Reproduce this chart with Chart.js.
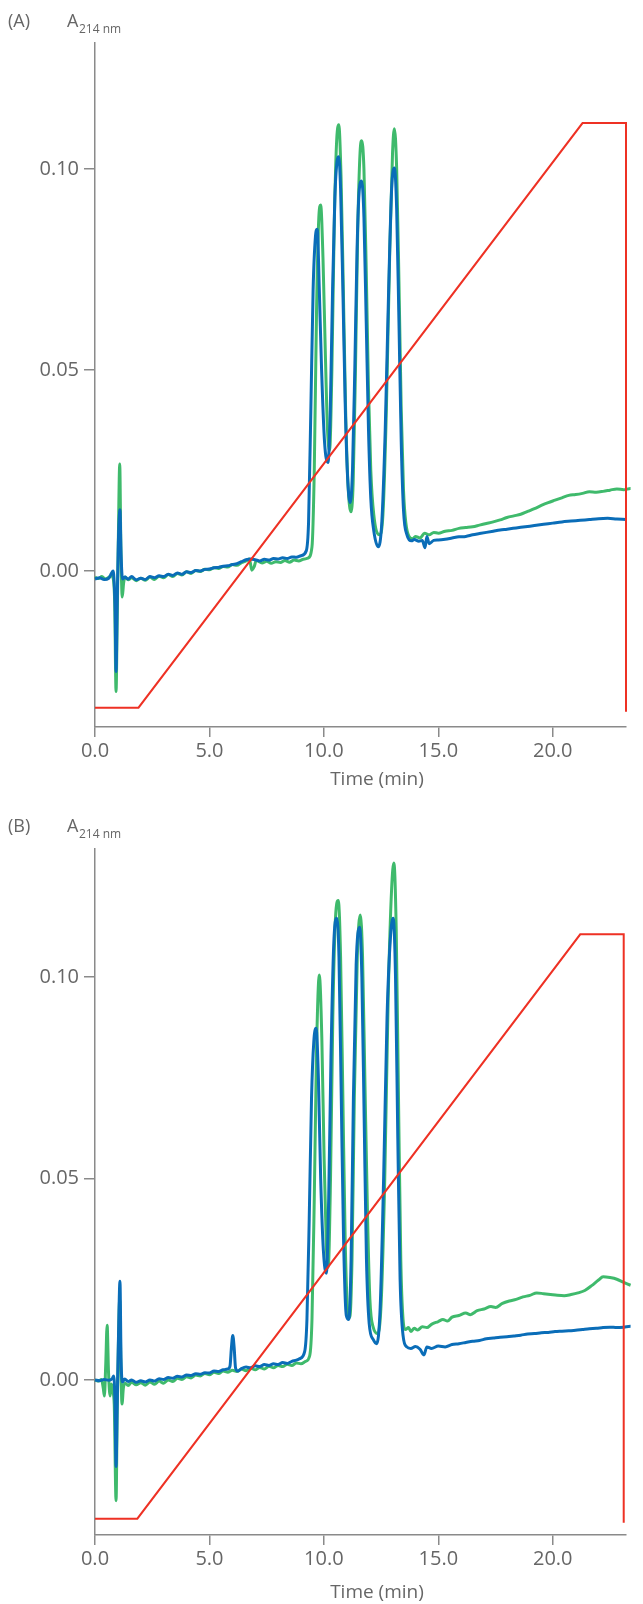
<!DOCTYPE html>
<html>
<head>
<meta charset="utf-8">
<script src="https://cdn.jsdelivr.net/npm/chart.js@4.4.0/dist/chart.umd.min.js"></script>
<style>
  html, body { margin: 0; padding: 0; background: #fff; width: 643px; height: 1604px; overflow: hidden; }
  canvas { position: absolute; left: 0; }
  .lbl { position: absolute; font-family: "Open Sans", sans-serif; color: #666; line-height: 1; white-space: nowrap; }
  .big { font-size: 18px; }
  .sub { font-size: 12px; }
  .xtitle { font-size: 19px; transform: translateX(-50%); }
</style>
</head>
<body>
<canvas id="chartA" width="643" height="791" style="top:0px;"></canvas>
<div class="lbl big" style="left:8px; top:11px;">(A)</div>
<div class="lbl big" style="left:67px; top:11px;">A</div>
<div class="lbl sub" style="left:79px; top:23px;">214 nm</div>
<div class="lbl xtitle" style="left:377px; top:769px;">Time (min)</div>

<canvas id="chartB" width="643" height="798" style="top:806px;"></canvas>
<div class="lbl big" style="left:8px; top:816px;">(B)</div>
<div class="lbl big" style="left:67px; top:816px;">A</div>
<div class="lbl sub" style="left:79px; top:828px;">214 nm</div>
<div class="lbl xtitle" style="left:377px; top:1582px;">Time (min)</div>

<script>
// time (min), absorbance at 214 nm
const greenA = [
  [0.00,-0.0015],[0.15,-0.0019],[0.30,-0.0014],[0.45,-0.0020],[0.60,-0.0016],[0.72,-0.0012],[0.80,-0.0020],
  [0.86,-0.0080],[0.92,-0.0300],[0.97,-0.0120],[1.02,0.0080],[1.08,0.0266],[1.13,0.0060],[1.19,-0.0065],
  [1.25,-0.0030],[1.32,-0.0015],[1.45,-0.0022],[1.60,-0.0017],[1.80,-0.0024],[2.00,-0.0018],[2.20,-0.0023],
  [2.40,-0.0015],[2.60,-0.0021],[2.80,-0.0013],[3.00,-0.0017],[3.20,-0.0009],[3.40,-0.0014],[3.60,-0.0006],
  [3.80,-0.0010],[4.00,-0.0002],[4.20,-0.0006],[4.40,0.0001],[4.60,-0.0001],[4.80,0.0004],[5.00,0.0003],
  [5.20,0.0008],[5.40,0.0006],[5.60,0.0011],[5.80,0.0010],[6.00,0.0016],[6.20,0.0014],[6.40,0.0021],
  [6.60,0.0025],[6.75,0.0030],[6.85,0.0002],[6.95,0.0010],[7.05,0.0026],[7.30,0.0020],[7.50,0.0024],
  [7.70,0.0019],[7.90,0.0023],[8.10,0.0021],[8.30,0.0026],[8.50,0.0022],[8.70,0.0027],[8.90,0.0025],
  [9.10,0.0029],[9.30,0.0032],[9.48,0.0060],[9.58,0.0250],[9.68,0.0650],[9.78,0.0880],[9.86,0.0910],
  [9.96,0.0780],[10.06,0.0550],[10.16,0.0350],[10.25,0.0300],[10.35,0.0500],[10.45,0.0850],[10.55,0.1060],
  [10.65,0.1110],[10.75,0.0980],[10.85,0.0700],[10.95,0.0400],[11.05,0.0220],[11.18,0.0147],[11.28,0.0220],
  [11.38,0.0500],[11.48,0.0850],[11.58,0.1040],[11.65,0.1070],[11.75,0.1000],[11.85,0.0750],[11.95,0.0450],
  [12.05,0.0250],[12.18,0.0140],[12.43,0.0090],[12.58,0.0140],[12.73,0.0400],[12.88,0.0800],[13.00,0.1040],
  [13.08,0.1100],[13.18,0.1000],[13.28,0.0720],[13.38,0.0400],[13.48,0.0200],[13.58,0.0120],[13.73,0.0085],
  [13.88,0.0080],[14.00,0.0086],[14.20,0.0082],[14.40,0.0094],[14.60,0.0090],[14.80,0.0096],[15.00,0.0094],
  [15.30,0.0099],[15.60,0.0101],[15.90,0.0106],[16.20,0.0108],[16.50,0.0110],[16.80,0.0114],[17.10,0.0118],
  [17.40,0.0122],[17.70,0.0127],[18.00,0.0133],[18.30,0.0137],[18.60,0.0141],[18.90,0.0148],[19.20,0.0155],
  [19.50,0.0163],[19.80,0.0170],[20.10,0.0176],[20.40,0.0182],[20.70,0.0188],[21.00,0.0190],[21.30,0.0193],
  [21.60,0.0197],[21.90,0.0196],[22.20,0.0198],[22.50,0.0201],[22.80,0.0204],[23.10,0.0202],[23.40,0.0205],
  [23.80,0.0203]
];

const blueA = [
  [0.00,-0.0020],[0.20,-0.0017],[0.40,-0.0021],[0.60,-0.0018],[0.72,-0.0006],[0.79,0.0000],[0.84,-0.0030],
  [0.88,-0.0100],[0.92,-0.0250],[0.97,-0.0080],[1.02,0.0070],[1.09,0.0152],[1.14,0.0040],[1.20,-0.0020],
  [1.30,-0.0015],[1.45,-0.0020],[1.60,-0.0014],[1.80,-0.0022],[2.00,-0.0018],[2.20,-0.0021],[2.40,-0.0014],
  [2.60,-0.0017],[2.80,-0.0012],[3.00,-0.0014],[3.20,-0.0008],[3.40,-0.0011],[3.60,-0.0005],[3.80,-0.0008],
  [4.00,-0.0002],[4.20,-0.0004],[4.40,0.0001],[4.60,0.0000],[4.80,0.0004],[5.00,0.0005],[5.20,0.0008],
  [5.40,0.0009],[5.60,0.0012],[5.80,0.0013],[6.00,0.0016],[6.20,0.0018],[6.40,0.0023],[6.60,0.0028],
  [6.80,0.0030],[7.00,0.0028],[7.20,0.0025],[7.40,0.0029],[7.60,0.0027],[7.80,0.0031],[8.00,0.0030],
  [8.20,0.0033],[8.40,0.0031],[8.60,0.0035],[8.80,0.0034],[9.00,0.0038],[9.23,0.0050],[9.33,0.0120],
  [9.43,0.0400],[9.53,0.0700],[9.63,0.0830],[9.71,0.0850],[9.80,0.0700],[9.90,0.0500],[10.03,0.0320],
  [10.18,0.0270],[10.28,0.0400],[10.38,0.0700],[10.48,0.0930],[10.58,0.1020],[10.65,0.1030],[10.73,0.0950],
  [10.83,0.0700],[10.93,0.0420],[11.03,0.0240],[11.15,0.0170],[11.25,0.0250],[11.35,0.0500],[11.45,0.0800],
  [11.55,0.0950],[11.65,0.0970],[11.75,0.0880],[11.85,0.0620],[11.95,0.0350],[12.05,0.0180],[12.18,0.0100],
  [12.38,0.0060],[12.53,0.0120],[12.68,0.0350],[12.83,0.0700],[12.96,0.0950],[13.08,0.1002],[13.18,0.0900],
  [13.28,0.0620],[13.38,0.0320],[13.48,0.0150],[13.63,0.0090],[13.83,0.0075],[13.95,0.0078],[14.15,0.0074],
  [14.30,0.0076],[14.42,0.0058],[14.50,0.0086],[14.60,0.0068],[14.80,0.0076],[15.00,0.0077],[15.30,0.0079],
  [15.60,0.0082],[15.90,0.0085],[16.20,0.0086],[16.50,0.0090],[16.80,0.0093],[17.10,0.0096],[17.40,0.0099],
  [17.70,0.0102],[18.00,0.0104],[18.40,0.0107],[18.80,0.0110],[19.20,0.0113],[19.60,0.0116],[20.00,0.0119],
  [20.40,0.0122],[20.80,0.0124],[21.20,0.0126],[21.60,0.0128],[22.00,0.0130],[22.40,0.0131],[22.80,0.0129],
  [23.20,0.0128],[23.80,0.0128]
];

const greenB = [
  [0.00,0.0000],[0.15,-0.0003],[0.28,0.0001],[0.36,-0.0020],[0.41,-0.0040],[0.47,0.0040],[0.53,0.0136],
  [0.59,0.0020],[0.66,-0.0040],[0.72,-0.0010],[0.78,-0.0030],[0.84,-0.0060],[0.92,-0.0300],[0.97,-0.0080],
  [1.02,0.0080],[1.08,0.0200],[1.13,0.0040],[1.18,-0.0060],[1.24,-0.0020],[1.32,-0.0008],[1.45,-0.0014],
  [1.60,-0.0006],[1.80,-0.0012],[2.00,-0.0007],[2.20,-0.0013],[2.40,-0.0005],[2.60,-0.0011],[2.80,-0.0003],
  [3.00,-0.0008],[3.20,0.0000],[3.40,-0.0004],[3.60,0.0004],[3.80,0.0001],[4.00,0.0008],[4.20,0.0005],
  [4.40,0.0012],[4.60,0.0010],[4.80,0.0016],[5.00,0.0013],[5.20,0.0019],[5.40,0.0016],[5.60,0.0022],
  [5.80,0.0019],[6.00,0.0024],[6.20,0.0021],[6.40,0.0027],[6.60,0.0023],[6.80,0.0029],[7.00,0.0025],
  [7.20,0.0031],[7.40,0.0027],[7.60,0.0034],[7.80,0.0030],[8.00,0.0036],[8.20,0.0033],[8.40,0.0039],
  [8.60,0.0036],[8.80,0.0042],[9.00,0.0040],[9.20,0.0046],[9.38,0.0060],[9.48,0.0150],[9.58,0.0450],
  [9.68,0.0820],[9.80,0.1005],[9.91,0.0850],[10.01,0.0550],[10.11,0.0330],[10.19,0.0280],[10.29,0.0500],
  [10.39,0.0900],[10.51,0.1150],[10.63,0.1190],[10.73,0.1050],[10.83,0.0700],[10.93,0.0350],[11.03,0.0180],
  [11.13,0.0155],[11.23,0.0300],[11.33,0.0700],[11.46,0.1050],[11.59,0.1154],[11.69,0.1050],[11.79,0.0750],
  [11.91,0.0400],[12.01,0.0200],[12.16,0.0130],[12.36,0.0115],[12.51,0.0200],[12.66,0.0500],[12.81,0.0950],
  [12.96,0.1220],[13.06,0.1283],[13.16,0.1120],[13.26,0.0700],[13.36,0.0300],[13.46,0.0150],[13.56,0.0125],
  [13.70,0.0130],[13.80,0.0120],[13.95,0.0128],[14.10,0.0124],[14.30,0.0132],[14.50,0.0130],[14.70,0.0138],
  [15.00,0.0145],[15.20,0.0150],[15.40,0.0146],[15.60,0.0156],[15.90,0.0160],[16.20,0.0166],[16.40,0.0162],
  [16.70,0.0172],[17.00,0.0176],[17.30,0.0182],[17.50,0.0180],[17.80,0.0190],[18.10,0.0196],[18.40,0.0200],
  [18.70,0.0206],[19.00,0.0210],[19.30,0.0216],[19.60,0.0214],[19.90,0.0212],[20.20,0.0210],[20.50,0.0209],
  [20.80,0.0212],[21.10,0.0216],[21.40,0.0222],[21.70,0.0234],[22.00,0.0248],[22.20,0.0256],[22.50,0.0254],
  [22.80,0.0250],[23.10,0.0242],[23.40,0.0235],[23.75,0.0228]
];

const blueB = [
  [0.00,0.0000],[0.20,-0.0002],[0.40,0.0001],[0.60,-0.0001],[0.75,0.0003],[0.82,0.0010],[0.87,-0.0050],
  [0.92,-0.0215],[0.97,-0.0060],[1.03,0.0120],[1.09,0.0245],[1.14,0.0050],[1.20,-0.0005],[1.30,0.0002],
  [1.45,-0.0004],[1.60,0.0000],[1.80,-0.0006],[2.00,-0.0002],[2.20,-0.0005],[2.40,0.0000],[2.60,-0.0003],
  [2.80,0.0003],[3.00,0.0001],[3.20,0.0006],[3.40,0.0004],[3.60,0.0009],[3.80,0.0007],[4.00,0.0012],
  [4.20,0.0011],[4.40,0.0015],[4.60,0.0014],[4.80,0.0018],[5.00,0.0017],[5.20,0.0022],[5.40,0.0021],
  [5.60,0.0025],[5.80,0.0027],[5.90,0.0035],[5.96,0.0080],[6.02,0.0110],[6.08,0.0080],[6.14,0.0030],
  [6.25,0.0022],[6.40,0.0028],[6.60,0.0032],[6.80,0.0030],[7.00,0.0035],[7.20,0.0033],[7.40,0.0038],
  [7.60,0.0036],[7.80,0.0040],[8.00,0.0038],[8.20,0.0043],[8.40,0.0041],[8.60,0.0046],[8.80,0.0049],
  [8.95,0.0053],[9.16,0.0070],[9.26,0.0150],[9.36,0.0400],[9.46,0.0700],[9.56,0.0840],[9.66,0.0873],
  [9.76,0.0750],[9.86,0.0500],[9.98,0.0320],[10.11,0.0265],[10.21,0.0450],[10.31,0.0800],[10.43,0.1080],
  [10.56,0.1146],[10.66,0.1050],[10.76,0.0700],[10.86,0.0350],[10.98,0.0160],[11.09,0.0150],[11.19,0.0300],
  [11.29,0.0700],[11.41,0.1030],[11.56,0.1124],[11.66,0.1000],[11.76,0.0650],[11.86,0.0300],[11.98,0.0140],
  [12.16,0.0100],[12.31,0.0090],[12.46,0.0180],[12.61,0.0500],[12.76,0.0900],[12.91,0.1100],[13.03,0.1146],
  [13.13,0.1000],[13.23,0.0600],[13.33,0.0250],[13.46,0.0110],[13.62,0.0082],[13.80,0.0078],[14.00,0.0083],
  [14.20,0.0076],[14.37,0.0062],[14.50,0.0082],[14.70,0.0078],[15.00,0.0084],[15.30,0.0082],[15.60,0.0088],
  [15.90,0.0090],[16.20,0.0093],[16.50,0.0096],[16.80,0.0098],[17.10,0.0102],[17.40,0.0104],[17.70,0.0106],
  [18.00,0.0107],[18.30,0.0109],[18.60,0.0111],[18.90,0.0114],[19.20,0.0115],[19.50,0.0117],[19.80,0.0118],
  [20.10,0.0120],[20.40,0.0121],[20.70,0.0122],[21.00,0.0123],[21.30,0.0125],[21.60,0.0127],[21.90,0.0128],
  [22.20,0.0130],[22.50,0.0131],[22.80,0.0130],[23.10,0.0131],[23.40,0.0133],[23.75,0.0132]
];

// gradient program, % B
const gradientA = [[0, 0], [1.9, 0], [21.3, 100], [23.2, 100], [23.2, -0.7]];
const gradientB = [[0, 0], [1.85, 0], [21.2, 100], [23.1, 100], [23.1, -0.7]];

const xTicks = [0, 5, 10, 15, 20];
const yTicks = [0, 0.05, 0.1];

const GREEN = '#3fba6c';
const BLUE = '#0a6db8';
const RED = '#ee3124';
const AXIS = '#8a8a8a';
const TEXT = '#666666';
const FONT = '"Open Sans", sans-serif';

function toPoints(pairs) {
  return pairs.map(p => ({ x: p[0], y: p[1] }));
}

function trace(pairs, color, width, order, axis) {
  return {
    data: toPoints(pairs),
    borderColor: color,
    borderWidth: width,
    pointRadius: 0,
    fill: false,
    clip: false,
    order: order,
    yAxisID: axis,
    cubicInterpolationMode: axis === 'y' ? 'monotone' : 'default',
    tension: 0
  };
}

function makeChart(id, green, blue, gradient, o) {
  return new Chart(document.getElementById(id), {
    type: 'line',
    data: {
      datasets: [
        trace(gradient, RED, 2, 0, 'y1'),
        trace(blue, BLUE, 3, 1, 'y'),
        trace(green, GREEN, 3, 2, 'y')
      ]
    },
    options: {
      responsive: false,
      devicePixelRatio: 1,
      animation: false,
      events: [],
      layout: { padding: { top: o.top, right: 17, left: 0, bottom: 0 } },
      plugins: { legend: { display: false }, tooltip: { enabled: false } },
      scales: {
        x: {
          type: 'linear',
          min: 0,
          max: o.xMax,
          afterFit: s => { s.height = o.xHeight; },
          afterBuildTicks: s => { s.ticks = xTicks.map(v => ({ value: v })); },
          border: { display: true, color: AXIS, width: 1.5 },
          grid: { drawOnChartArea: false, drawTicks: true, tickLength: 10, color: AXIS, lineWidth: 1.5 },
          ticks: {
            color: TEXT, padding: 2,
            font: { family: FONT, size: 20 },
            callback: v => v.toFixed(1)
          }
        },
        y: {
          type: 'linear',
          min: o.yMin,
          max: o.yMax,
          afterFit: s => { s.width = 95; },
          afterBuildTicks: s => { s.ticks = yTicks.map(v => ({ value: v })); },
          border: { display: true, color: AXIS, width: 1.5 },
          grid: { drawOnChartArea: false, drawTicks: true, tickLength: 11, color: AXIS, lineWidth: 1.5 },
          ticks: {
            color: TEXT, padding: 5,
            font: { family: FONT, size: 20 },
            callback: v => v.toFixed(2)
          }
        },
        y1: {
          type: 'linear',
          display: false,
          min: o.gMin,
          max: o.gMax
        }
      }
    }
  });
}

makeChart('chartA', greenA, blueA, gradientA,
  { top: 43, xHeight: 64, xMax: 23.2, yMin: -0.0388, yMax: 0.1313, gMin: -3.3, gMax: 113.7 });
makeChart('chartB', greenB, blueB, gradientB,
  { top: 43, xHeight: 69, xMax: 23.2, yMin: -0.0385, yMax: 0.1318, gMin: -2.8, gMax: 114.6 });
</script>
</body>
</html>
